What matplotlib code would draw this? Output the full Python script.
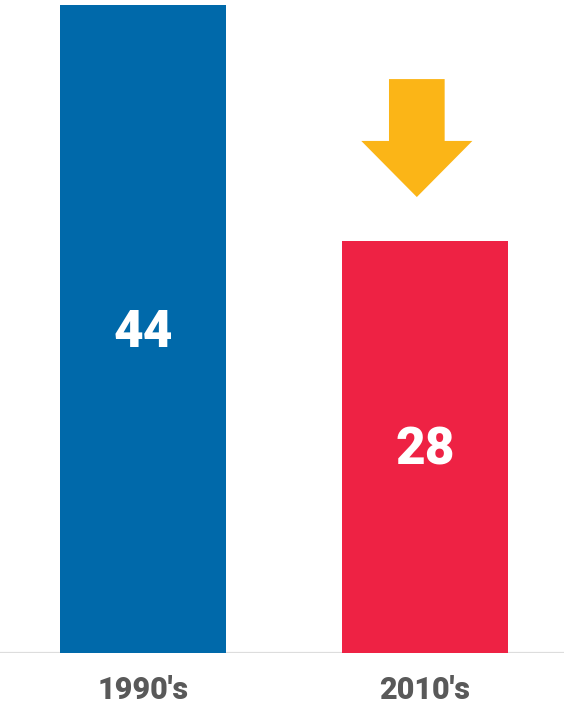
import matplotlib
matplotlib.use("Agg")
import matplotlib.pyplot as plt

categories = ["1990's", "2010's"]
values = [44, 28]
colors = ["#0069AA", "#EE2244"]
arrow_color = "#FBB517"

fig = plt.figure(figsize=(5.64, 7.06), dpi=100)
ax = fig.add_axes([0, 53/706, 1, 648/706])
x = list(range(len(categories)))
ax.bar(x, values, width=0.592, color=colors, zorder=2)
ax.set_xlim(-143/282, (564-143)/282)
ax.set_ylim(0, max(values))
ax.axhline(0, color="#DDDDDD", lw=1.6, zorder=1, xmin=0.002)

for xi, v in zip(x, values):
    ax.text(xi, v/2 - 1.22, str(v), ha="center", va="baseline", color="white",
            fontsize=37, fontweight=900, family="Roboto")
for xi, c in zip(x, categories):
    ax.text(xi, -3.15, c, ha="center", va="baseline", color="#595959",
            fontsize=22, fontweight=900, family="Roboto", clip_on=False)

# down arrow above the second bar
ax_x = x[1] - 0.029
tip = values[1] + 2.96
head = values[1] + 6.77
top = values[1] + 10.97
sw, hw = 0.0987, 0.197
ax.fill([ax_x - sw, ax_x + sw, ax_x + sw, ax_x + hw, ax_x, ax_x - hw, ax_x - sw],
        [top, top, head, head, tip, head, head], color=arrow_color, lw=0, clip_on=False)

ax.axis("off")
fig.savefig("out.png", dpi=100)
